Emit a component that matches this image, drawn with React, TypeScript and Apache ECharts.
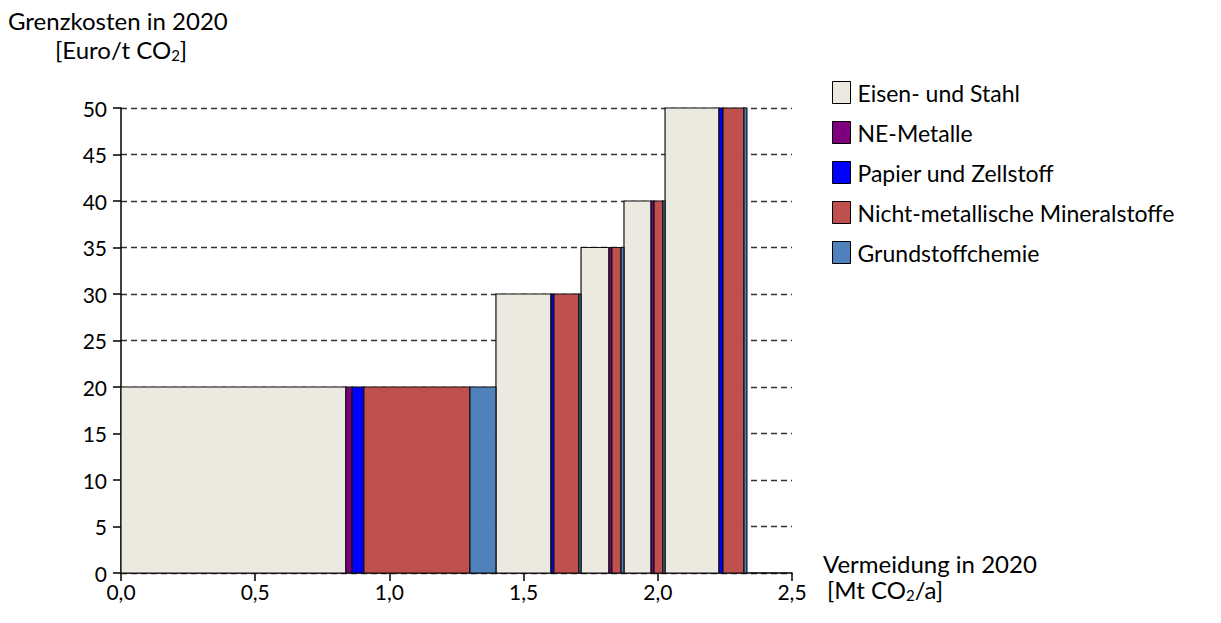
import React, { useEffect, useRef } from "react";
import * as echarts from "echarts";

const sectors = [
  "Eisen- und Stahl",
  "NE-Metalle",
  "Papier und Zellstoff",
  "Nicht-metallische Mineralstoffe",
  "Grundstoffchemie",
];
const sectorColors = ["#ECEAE0", "#7F007F", "#0000FF", "#C0504D", "#4F81BD"];

// abatement blocks in merit order: sector index, width (Mt CO2/a), marginal cost (Euro/t CO2)
const blockSector = [0, 1, 2, 3, 4, 0, 2, 3, 4, 0, 1, 3, 4, 0, 1, 3, 4, 0, 2, 3, 4];
const blockWidth = [
  0.838, 0.023, 0.044, 0.395, 0.097,
  0.205, 0.011, 0.093, 0.008,
  0.104, 0.011, 0.034, 0.011,
  0.101, 0.011, 0.033, 0.008,
  0.201, 0.015, 0.078, 0.011,
];
const blockCost = [
  20, 20, 20, 20, 20,
  30, 30, 30, 30,
  35, 35, 35, 35,
  40, 40, 40, 40,
  50, 50, 50, 50,
];
const xTicks = [0, 0.5, 1, 1.5, 2, 2.5];
const yTicks = [0, 5, 10, 15, 20, 25, 30, 35, 40, 45, 50];

const FONT = "Lato";

export default function App() {
  const ref = useRef<HTMLDivElement>(null);
  useEffect(() => {
    if (!ref.current) return;
    const chart = echarts.init(ref.current, undefined, { renderer: "svg" });

    const perSector: number[][][] = sectors.map(() => []);
    let acc = 0;
    blockWidth.forEach((w, i) => {
      perSector[blockSector[i]].push([acc, acc + w, blockCost[i]]);
      acc += w;
    });

    const series = sectors.map((name, si) => ({
      type: "custom",
      name,
      coordinateSystem: "cartesian2d",
      encode: { x: [0, 1], y: 2 },
      itemStyle: { color: sectorColors[si], borderColor: "#000", borderWidth: 1 },
      data: perSector[si],
      z: 3,
      renderItem: (params: any, api: any) => {
        const s = api.coord([api.value(0), api.value(2)]);
        const e = api.coord([api.value(1), 0]);
        return {
          type: "rect",
          shape: { x: s[0], y: s[1], width: e[0] - s[0], height: e[1] - s[1] },
          style: { fill: sectorColors[si], stroke: "#111", lineWidth: 1.2 },
        };
      },
    }));

    const rich = {
      base: { fontFamily: FONT, fontSize: 24, color: "#000", lineHeight: 26 },
      sub: { fontFamily: FONT, fontSize: 15, color: "#000", lineHeight: 26, padding: [10, 0, 0, 0] },
    };

    chart.setOption({
      animation: false,
      backgroundColor: "#fff",
      grid: { left: 121, right: 429, top: 108, bottom: 50 },
      legend: {
        orient: "vertical",
        left: 827,
        top: 76,
        itemWidth: 18,
        itemHeight: 22,
        itemGap: 17,
        icon: "rect",
        textStyle: { fontFamily: FONT, fontSize: 23, color: "#000", padding: [0, 0, 0, 2] },
        data: sectors.map((s, i) => ({
          name: s,
          itemStyle: { color: sectorColors[i], borderColor: "#000", borderWidth: 1 },
        })),
      },
      xAxis: {
        type: "value",
        min: xTicks[0],
        max: xTicks[xTicks.length - 1],
        interval: 0.5,
        axisLine: { lineStyle: { color: "#000", width: 1.5 } },
        axisTick: { show: true, inside: false, length: 8, lineStyle: { color: "#000", width: 1.5 } },
        axisLabel: {
          fontFamily: FONT,
          fontSize: 21,
          color: "#000",
          margin: 8,
          formatter: (v: number) => v.toFixed(1).replace(".", ","),
        },
        splitLine: { show: false },
      },
      yAxis: {
        type: "value",
        min: yTicks[0],
        max: yTicks[yTicks.length - 1],
        interval: 5,
        axisLine: { show: true, lineStyle: { color: "#000", width: 1.5 } },
        axisTick: { show: true, inside: false, length: 8, lineStyle: { color: "#000", width: 1.5 } },
        axisLabel: { fontFamily: FONT, fontSize: 21, color: "#000", margin: 14 },
        splitLine: { show: true, lineStyle: { color: "#333", type: [6, 4], width: 1.3 } },
      },
      graphic: [
        {
          type: "text",
          left: 8,
          top: 7,
          style: { text: "Grenzkosten in 2020", font: `24px ${FONT}`, lineHeight: 26, fill: "#000" },
        },
        {
          type: "text",
          left: 55,
          top: 37,
          style: { text: "{base|[Euro/t CO}{sub|2}{base|]}", rich },
        },
        {
          type: "text",
          left: 823,
          top: 550,
          style: { text: "Vermeidung in 2020", font: `24px ${FONT}`, lineHeight: 26, fill: "#000" },
        },
        {
          type: "text",
          left: 827,
          top: 577,
          style: { text: "{base|[Mt CO}{sub|2}{base|/a]}", rich },
        },
      ],
      series,
    });
    return () => chart.dispose();
  }, []);
  return (
    <div
      ref={ref}
      style={{ position: "fixed", left: 0, top: 0, width: 1221, height: 623 }}
    />
  );
}
